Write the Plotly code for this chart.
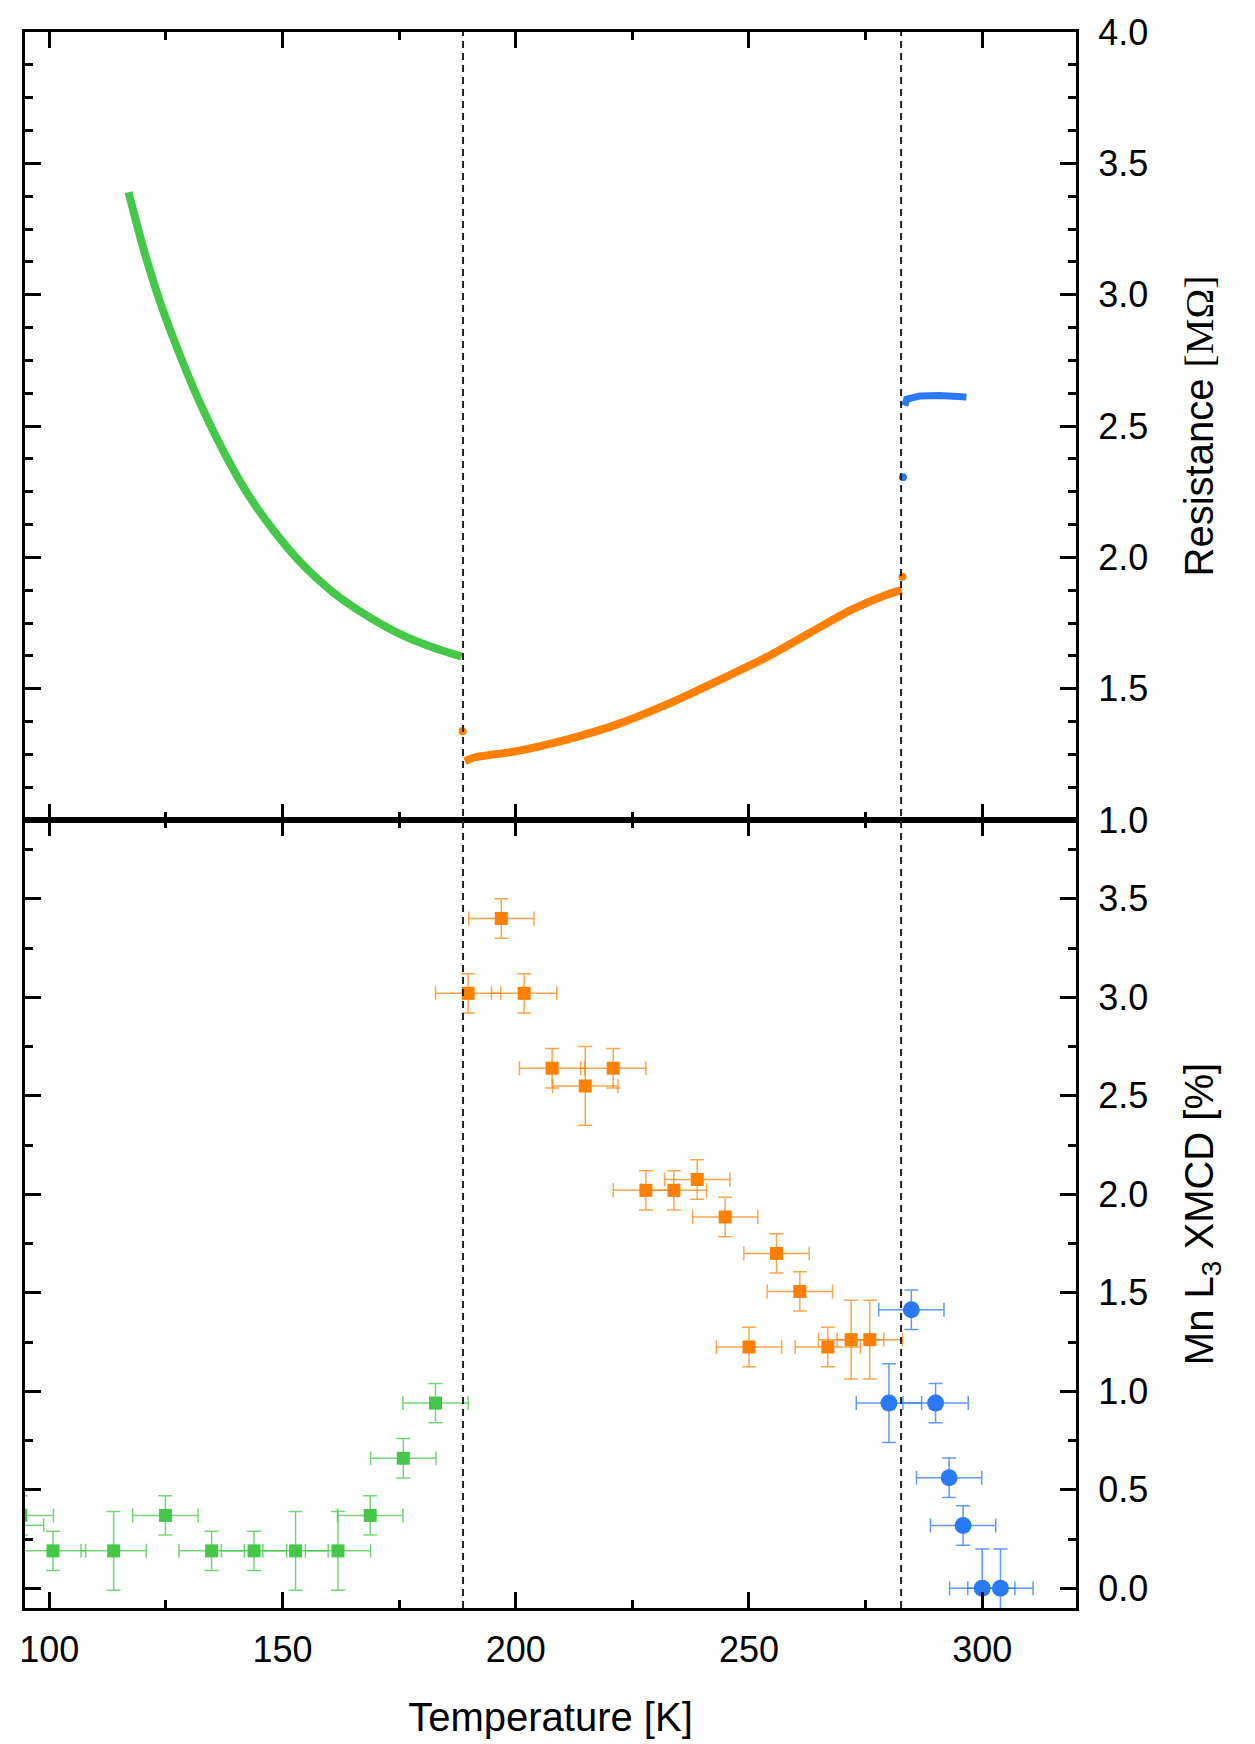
import plotly.graph_objects as go

# ---------------- data ----------------
# Top panel: resistance [MOhm] vs temperature [K]
green_T = [117.0, 120.2, 123.8, 128.1, 132.4, 137.3, 142.4, 148.1, 153.8, 160.9, 168.1, 175.2, 182.3, 188.4]
green_R = [3.39, 3.175, 2.970, 2.766, 2.584, 2.405, 2.245, 2.102, 1.982, 1.866, 1.778, 1.708, 1.657, 1.622]

orange_T = [189.1, 190.9, 200.2, 210.9, 221.6, 232.3, 243.1, 253.8, 263.1, 271.6, 278.8, 282.7]
orange_R = [1.224, 1.237, 1.262, 1.306, 1.363, 1.439, 1.528, 1.620, 1.713, 1.797, 1.853, 1.875]

blue_T = [283.4, 283.8, 286.6, 290.9, 296.6]
blue_R = [2.577, 2.602, 2.614, 2.616, 2.610]

orange_iso_T = [188.6, 282.9]
orange_iso_R = [1.338, 1.926]
blue_iso_T = [283.0]
blue_iso_R = [2.305]

# Bottom panel: Mn L3 XMCD [%]
green_xT = [91.8, 93.9, 100.8, 113.8, 124.9, 134.8, 143.9, 152.8, 161.9, 168.8, 175.9, 182.8]
green_xV = [0.32, 0.37, 0.19, 0.19, 0.37, 0.19, 0.19, 0.19, 0.19, 0.37, 0.66, 0.94]
green_xErrV = [0.1, 0.1, 0.1, 0.2, 0.1, 0.1, 0.1, 0.2, 0.2, 0.1, 0.1, 0.1]

orange_xT = [189.8, 196.9, 201.8, 207.8, 214.9, 220.9, 227.9, 233.9, 238.9, 244.9,
             250.0, 255.9, 260.9, 266.9, 271.9, 275.9]
orange_xV = [3.02, 3.40, 3.02, 2.64, 2.55, 2.64, 2.02, 2.02, 2.075, 1.885,
             1.225, 1.70, 1.507, 1.225, 1.262, 1.262]
orange_xErrV = [0.1, 0.1, 0.1, 0.1, 0.2, 0.1, 0.1, 0.1, 0.1, 0.1,
                0.1, 0.1, 0.1, 0.1, 0.2, 0.2]

blue_xT = [280.0, 284.8, 290.0, 292.9, 295.9, 300.0, 303.9]
blue_xV = [0.94, 1.414, 0.94, 0.561, 0.319, 0.0, 0.0]
blue_xErrV = [0.2, 0.1, 0.1, 0.1, 0.1, 0.2, 0.2]

temp_err = 7.0
transition_T = [188.7, 282.6]

GREEN = "#45C84A"
ORANGE = "#FF8000"
BLUE = "#2A7AF6"
GREEN_E = "rgba(69,200,74,0.75)"
ORANGE_E = "rgba(255,128,0,0.7)"
BLUE_E = "rgba(42,122,246,0.75)"

FONT = "Liberation Sans, Arial, Helvetica, sans-serif"

fig = go.Figure()

# top panel curves
for T, R, c, w, shp in [(green_T, green_R, GREEN, 8, "spline"),
                        (orange_T, orange_R, ORANGE, 8, "spline"),
                        (blue_T, blue_R, BLUE, 7, "linear")]:
    fig.add_trace(go.Scatter(x=T, y=R, mode="lines", line=dict(color=c, width=w, shape=shp, smoothing=0.8),
                             xaxis="x", yaxis="y", showlegend=False))
fig.add_trace(go.Scatter(x=orange_iso_T, y=orange_iso_R, mode="markers",
                         marker=dict(color=ORANGE, size=8), xaxis="x", yaxis="y", showlegend=False))
fig.add_trace(go.Scatter(x=blue_iso_T, y=blue_iso_R, mode="markers",
                         marker=dict(color=BLUE, size=8), xaxis="x", yaxis="y", showlegend=False))

# bottom panel points with error bars
def pts(T, V, EV, color, ecolor, symbol, size):
    return go.Scatter(
        x=T, y=V, mode="markers",
        marker=dict(color=color, size=size, symbol=symbol, line=dict(width=0)),
        error_x=dict(type="constant", value=temp_err, color=ecolor, thickness=1.5, width=7),
        error_y=dict(type="data", array=EV, color=ecolor, thickness=1.5, width=7),
        xaxis="x2", yaxis="y2", showlegend=False, cliponaxis=True)

fig.add_trace(pts(green_xT, green_xV, green_xErrV, GREEN, GREEN_E, "square", 13))
fig.add_trace(pts(orange_xT, orange_xV, orange_xErrV, ORANGE, ORANGE_E, "square", 13))
fig.add_trace(pts(blue_xT, blue_xV, blue_xErrV, BLUE, BLUE_E, "circle", 17))

# dashed transition lines across both panels
for t in transition_T:
    fig.add_shape(type="line", xref="x2", yref="paper", x0=t, x1=t, y0=0, y1=1,
                  line=dict(color="#222222", width=2, dash="7px,5px"), layer="above")

xr = [94.8, 320.1]
common_x = dict(range=xr, showline=True, linecolor="black", linewidth=3, mirror="allticks",
                ticks="inside", ticklen=16, tickwidth=3, tickcolor="black",
                tick0=100, dtick=50, showgrid=False, zeroline=False,
                minor=dict(ticks="inside", ticklen=8, tickwidth=2.5, tickcolor="black", dtick=25, tick0=100))
common_y = dict(side="right", showline=True, linecolor="black", linewidth=3, mirror="allticks",
                ticks="inside", ticklen=16, tickwidth=3, tickcolor="black",
                showgrid=False, zeroline=False, tickformat=".1f",
                tickfont=dict(family=FONT, size=36, color="black"),
                ticklabelstandoff=12)

fig.update_layout(
    width=1255, height=1744,
    margin=dict(l=25, r=179, t=28, b=135),
    paper_bgcolor="white", plot_bgcolor="white",
    font=dict(family=FONT, color="black"),
    xaxis=dict(common_x, anchor="y", showticklabels=False, domain=[0, 1]),
    xaxis2=dict(common_x, anchor="y2", domain=[0, 1], matches="x",
                tickfont=dict(family=FONT, size=36, color="black"), ticklabelstandoff=8,
                title=dict(text="Temperature [K]", font=dict(family=FONT, size=40, color="black"), standoff=34)),
    yaxis=dict(common_y, anchor="x", domain=[0.5, 1.0], range=[1.0, 4.0], tick0=1.0, dtick=0.5,
               minor=dict(ticks="inside", ticklen=8, tickwidth=2.5, tickcolor="black", dtick=0.125, tick0=1.0),
               title=dict(text="Resistance <span style='font-family:Liberation Serif'>[MΩ]</span>",
                          font=dict(family=FONT, size=40, color="black"), standoff=38)),
    yaxis2=dict(common_y, anchor="x2", domain=[0, 0.5], range=[-0.1, 3.9], tick0=0, dtick=0.5,
                minor=dict(ticks="inside", ticklen=8, tickwidth=2.5, tickcolor="black", dtick=0.25, tick0=0),
                title=dict(text="Mn L<sub>3</sub> XMCD [%]",
                           font=dict(family=FONT, size=40, color="black"), standoff=38)),
)

fig.write_html("out.html")
